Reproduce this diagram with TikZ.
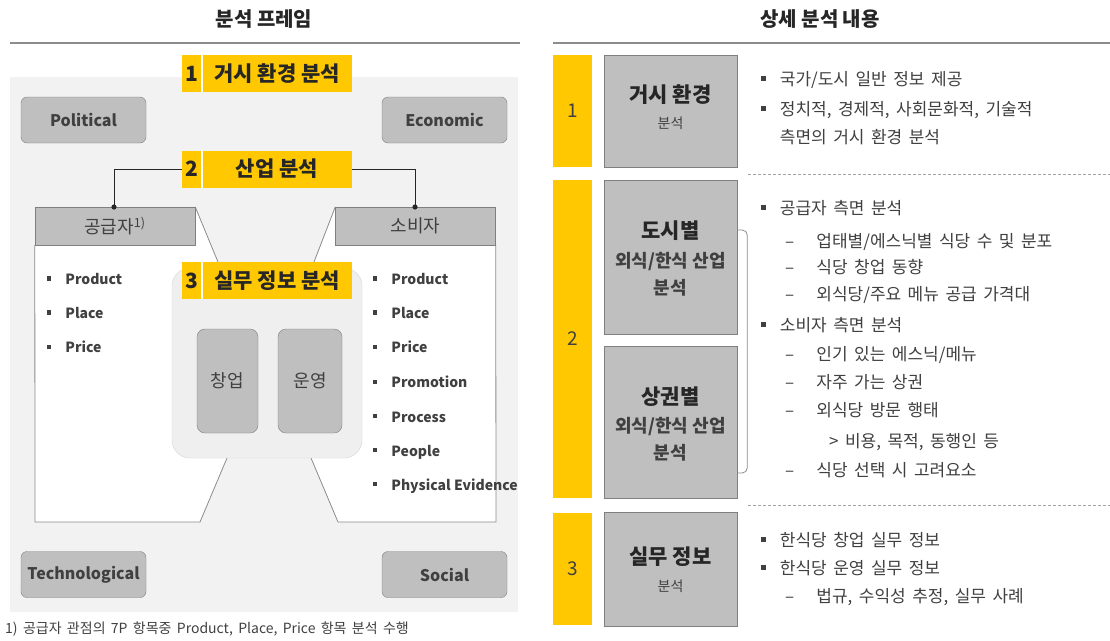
\documentclass[tikz,border=0pt]{standalone}
\usepackage{fontspec}
\setmainfont{Noto Sans CJK KR}
\newfontfamily\widefont{Noto Sans CJK KR}[WordSpace=1.7]
\usetikzlibrary{calc}
\definecolor{ylw}{HTML}{FFC800}
\definecolor{boxg}{HTML}{BFBFBF}
\definecolor{boxd}{HTML}{7F7F7F}
\definecolor{pbg}{HTML}{F2F2F2}
\definecolor{txt}{HTML}{404040}
\definecolor{dtxt}{HTML}{262626}
\definecolor{cboxc}{HTML}{EFEFEF}
\definecolor{cboxd}{HTML}{D6D6D6}
\definecolor{lnc}{HTML}{8C8C8C}
\newcommand{\fsz}[1]{\fontsize{#1}{#1}\selectfont}
\newcommand{\sqb}{\rule[0.28em]{0.3em}{0.3em}}
\begin{document}
\begin{tikzpicture}[x=1pt,y=-1pt,
  ylab/.style={fill=ylw, inner sep=0, minimum width=170pt, minimum height=37pt},
  ylabtxt/.style={inner sep=0, text=dtxt, font=\fsz{21}\bfseries},
  pest/.style={draw=boxd, fill=boxg, rounded corners=6pt, minimum width=125pt, minimum height=46pt, inner sep=0, text=txt, font=\fsz{16}\bfseries},
  hdr/.style={draw=boxd, fill=boxg, minimum width=160pt, minimum height=38pt, inner sep=0, text=txt, font=\fsz{18}},
  inbox/.style={draw=boxd, fill=boxg, rounded corners=8pt, minimum height=104pt, inner sep=0, text=txt, font=\fsz{18}},
  litem/.style={anchor=west, inner sep=0, text=txt, font=\fsz{14}\bfseries},
  bar/.style={fill=ylw, inner sep=0, minimum width=39pt},
  gbox/.style={draw=boxd, fill=boxg, inner sep=0, minimum width=133pt},
  bigt/.style={inner sep=0, text=dtxt, font=\fsz{21}\bfseries},
  midt/.style={inner sep=0, text=txt, font=\fsz{18}\bfseries},
  smt/.style={inner sep=0, text=txt, font=\fsz{14}},
  numt/.style={inner sep=0, text=txt, font=\fsz{19}},
  ritem/.style={anchor=west, inner sep=0, text=txt, font=\widefont\fsz{17}},
  ttl/.style={inner sep=0, text=dtxt, font=\fsz{20}\bfseries},
  rule/.style={draw=lnc, line width=1.2pt},
  dline/.style={draw=lnc!80, dashed, dash pattern=on 3pt off 2pt, line width=0.6pt},
  conn/.style={draw=dtxt, line width=0.8pt},
  edge/.style={draw=lnc, line width=0.8pt}
]
\useasboundingbox (0,0) rectangle (1110,640);
\fill[white] (0,0) rectangle (1110,640);

% ---------- titles ----------
\node[ttl] (tleft) at (264,19) {분석 프레임};
\node[ttl] (tright) at (820,19) {상세 분석 내용};
\coordinate (ruleLa) at (10,43); \coordinate (ruleLb) at (520,43);
\coordinate (ruleRa) at (553,43); \coordinate (ruleRb) at (1110,43);
\draw[rule] (ruleLa) -- (ruleLb);
\draw[rule] (ruleRa) -- (ruleRb);

% ---------- left panel ----------
\fill[pbg] (10,77) rectangle (518,612);
\fill[white] (35,207) rectangle (496,522);

\node[hdr] (hdrL) at (115,226) {};
\node[hdr] (hdrR) at (415.5,226) {};

\coordinate (ftl) at (218,262); \coordinate (ftr) at (314,262);
\coordinate (fbl) at (227,458); \coordinate (fbr) at (311,458);
\coordinate (fbl2) at (200,522); \coordinate (fbr2) at (338,522);
\fill[pbg] (hdrL.north east) -- (ftl) -- (ftr) -- (hdrR.north west) -- cycle;
\fill[pbg] (fbl) -- (fbl2) -- (fbr2) -- (fbr) -- cycle;
\draw[edge] (hdrL.north east) -- (ftl);
\draw[edge] (hdrR.north west) -- (ftr);
\draw[edge] (fbl) -- (fbl2);
\draw[edge] (fbr) -- (fbr2);
\draw[edge] (hdrL.south west) -- (35,522) -- (fbl2);
\draw[edge] (hdrR.south east) -- (496,522) -- (fbr2);
\node[hdr] at (hdrL) {공급자\textsuperscript{1)}};
\node[hdr] at (hdrR) {소비자};

% center box
\node[draw=cboxd, fill=cboxc, rounded corners=18pt, minimum width=190pt, minimum height=190pt, inner sep=0] (cbox) at (267,363) {};
\node[inbox, minimum width=61pt] (chang) at (227.5,381) {창업};
\node[inbox, minimum width=64pt] (unyeong) at (310,381) {운영};

% PEST boxes
\node[pest] (pol) at (83.5,120) {Political};
\node[pest] (eco) at (444.5,120) {Economic};
\node[pest] (tec) at (83.5,574.5) {Technological};
\node[pest] (soc) at (444.5,574.5) {Social};

% yellow labels
\node[ylab] (lbl1) at (267,73.5) {};
\node[ylab] (lbl2) at (267,169) {};
\node[ylab] (lbl3) at (267,280.5) {};
\foreach \L/\N/\T in {lbl1/1/거시 환경 분석, lbl2/2/산업 분석, lbl3/3/실무 정보 분석}{
  \draw[white, line width=1.5pt] ([xshift=20pt]\L.north west) -- ([xshift=20pt]\L.south west);
  \node[ylabtxt] at ([xshift=10pt]\L.west) {\N};
  \node[ylabtxt] at ([xshift=10pt]\L.center) {\T};
}

% connectors from label 2
\coordinate (dotL) at (114,207);
\coordinate (dotR) at (415,207);
\draw[conn] (lbl2.west) -| (dotL);
\draw[conn] (lbl2.east) -| (dotR);
\fill[dtxt] (dotL) circle (2.6pt);
\fill[dtxt] (dotR) circle (2.6pt);

% lists
\node[litem] (lp1) at (47,279) {\sqb\hspace{1em}Product};
\node[litem] (lp2) at (47,313) {\sqb\hspace{1em}Place};
\node[litem] (lp3) at (47,347) {\sqb\hspace{1em}Price};
\node[litem] (rp1) at (373,279) {\sqb\hspace{1em}Product};
\node[litem] (rp2) at (373,313) {\sqb\hspace{1em}Place};
\node[litem] (rp3) at (373,347) {\sqb\hspace{1em}Price};
\node[litem] (rp4) at (373,382) {\sqb\hspace{1em}Promotion};
\node[litem] (rp5) at (373,417) {\sqb\hspace{1em}Process};
\node[litem] (rp6) at (373,452) {\sqb\hspace{1em}People};
\node[litem] (rp7) at (373,486) {\sqb\hspace{1em}Physical Evidence};

% footnote
\node[anchor=west, inner sep=0, text=txt, font=\widefont\fsz{14}] (fn) at (5,629) {1) 공급자 관점의 7P 항목중 Product, Place, Price 항목 분석 수행};

% ---------- right panel ----------
\node[bar, minimum height=112pt] (bar1) at (572.5,111) {};
\node[bar, minimum height=318pt] (bar2) at (572.5,339) {};
\node[bar, minimum height=112pt] (bar3) at (572.5,569) {};
\node[numt] at (bar1) {1};
\node[numt] at (bar2) {2};
\node[numt] at (bar3) {3};

\node[gbox, minimum height=112pt] (box1) at (670.5,111) {};
\node[gbox, minimum height=154pt] (box2a) at (670.5,257) {};
\node[gbox, minimum height=152pt] (box2b) at (670.5,422) {};
\node[gbox, minimum height=114pt] (box3) at (670.5,569) {};

\node[bigt] at (670.5,95) {거시 환경};
\node[smt] at (670.5,123) {분석};
\node[bigt] at (670.5,231) {도시별};
\node[midt] at (670.5,262) {외식/한식 산업};
\node[midt] at (670.5,288) {분석};
\node[bigt] at (670.5,397) {상권별};
\node[midt] at (670.5,427) {외식/한식 산업};
\node[midt] at (670.5,453) {분석};
\node[bigt] at (670.5,557) {실무 정보};
\node[smt] at (670.5,586) {분석};

% bracket
\coordinate (brT) at (box2a.east |- 0,230);
\coordinate (brB) at (box2b.east |- 0,473);
\draw[edge, rounded corners=5pt] (brT) -- ++(10,0) |- (brB);

% dashed separators
\coordinate (d1a) at (748,174); \coordinate (d1b) at (1110,174);
\coordinate (d2a) at (748,505); \coordinate (d2b) at (1110,505);
\draw[dline] (d1a) -- (d1b);
\draw[dline] (d2a) -- (d2b);

% texts section 1
\node[ritem] (s1a) at (761,80) {\sqb\hspace{0.8em}국가/도시 일반 정보 제공};
\node[ritem] (s1b) at (761,110) {\sqb\hspace{0.8em}정치적, 경제적, 사회문화적, 기술적};
\node[ritem] (s1c) at (s1b.west |- 0,137) {\phantom{\sqb\hspace{0.8em}}측면의 거시 환경 분석};

% texts section 2
\node[ritem] (s2a) at (761,208) {\sqb\hspace{0.8em}공급자 측면 분석};
\node[ritem] (s2b) at (785,242) {–\hspace{1.3em}업태별/에스닉별 식당 수 및 분포};
\node[ritem] (s2c) at (785,267) {–\hspace{1.3em}식당 창업 동향};
\node[ritem] (s2d) at (785,295) {–\hspace{1.3em}외식당/주요 메뉴 공급 가격대};
\node[ritem] (s2e) at (761,325) {\sqb\hspace{0.8em}소비자 측면 분석};
\node[ritem] (s2f) at (785,355) {–\hspace{1.3em}인기 있는 에스닉/메뉴};
\node[ritem] (s2g) at (785,382) {–\hspace{1.3em}자주 가는 상권};
\node[ritem] (s2h) at (785,410) {–\hspace{1.3em}외식당 방문 행태};
\node[ritem] (s2i) at (829,442) {> 비용, 목적, 동행인 등};
\node[ritem] (s2j) at (785,470) {–\hspace{1.3em}식당 선택 시 고려요소};

% texts section 3
\node[ritem] (s3a) at (761,540) {\sqb\hspace{0.8em}한식당 창업 실무 정보};
\node[ritem] (s3b) at (761,568) {\sqb\hspace{0.8em}한식당 운영 실무 정보};
\node[ritem] (s3c) at (785,597) {–\hspace{1.3em}법규, 수익성 추정, 실무 사례};
\end{tikzpicture}
\end{document}
